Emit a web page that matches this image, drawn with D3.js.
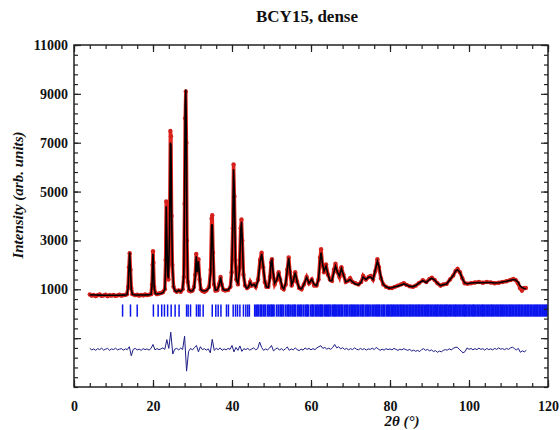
<!DOCTYPE html>
<html>
<head>
<meta charset="utf-8">
<script src="https://cdn.jsdelivr.net/npm/d3@7"></script>
<style>
  body { margin: 0; background: #fff; }
  .axis text { font-family: "Liberation Serif", "Times New Roman", serif; font-weight: bold; font-size: 14px; fill: #111; }
  .axis line { stroke: #222; stroke-width: 1.2; }
  .label { font-family: "Liberation Serif", "Times New Roman", serif; font-weight: bold; fill: #111; }
</style>
</head>
<body>
<div id="chart"></div>
<script>
const twoTheta = [
  4.0, 4.5, 5.0, 5.5, 6.0, 6.5, 7.0, 7.5, 8.0, 8.5, 9.0, 9.5, 10.0, 10.5, 11.0, 11.5, 12.0, 12.5, 13.0, 13.4,
  13.7, 13.9, 14.1, 14.3, 14.5, 14.8, 15.5, 16.0, 16.5, 17.0, 17.5, 18.0, 18.5, 19.0, 19.5,
  19.75, 19.9, 20.0, 20.1, 20.3, 20.6, 21.0, 21.5, 22.0, 22.5, 23.0,
  23.2, 23.35, 23.5, 23.7, 23.9, 24.2, 24.4, 24.55, 24.7, 24.9, 25.2, 25.6, 26.0, 26.5, 27.0, 27.5,
  27.8, 28.0, 28.15, 28.3, 28.45, 28.6, 28.8, 29.1, 29.5, 30.0, 30.4,
  30.7, 30.95, 31.2, 31.5, 31.8, 32.1, 32.5, 33.0, 33.5, 34.2, 34.6, 34.85, 35.0, 35.2, 35.45, 35.8, 36.3, 36.8, 37.1, 37.4, 37.8, 38.3, 39.0, 39.6,
  39.9, 40.2, 40.4, 40.6, 40.85, 41.1, 41.5, 41.9, 42.2, 42.4, 42.6, 42.9, 43.3, 43.8, 44.2, 44.6, 45.0, 45.6, 46.0,
  46.6, 47.1, 47.5, 47.9, 48.3, 48.7, 49.2, 49.6, 49.9, 50.1, 50.4, 50.8, 51.4, 51.8, 52.2, 52.7, 53.1, 53.6,
  54.0, 54.35, 54.7, 55.1, 55.5, 56.0, 56.5, 57.0, 57.6, 58.2, 58.9, 59.5, 60.2, 60.8, 61.4, 61.9,
  62.3, 62.55, 62.9, 63.3, 63.8, 64.3, 64.8, 65.3, 65.8, 66.2, 66.7, 67.2, 67.7, 68.2, 68.8, 69.4,
  69.9, 70.5, 71.2, 72.0, 72.7, 73.2, 73.9, 74.6, 75.1, 75.7, 76.3, 76.8, 77.2, 77.7, 78.3, 79.0,
  79.8, 80.5, 81.2, 82.0, 82.8, 83.5, 84.2, 85.0, 85.8, 86.5, 87.3, 88.3, 89.2, 90.0, 90.6, 91.3, 92.0, 92.8, 93.5, 94.3, 95.2, 96.0, 96.6,
  97.1, 97.7, 98.3, 98.9, 99.6, 100.5, 101.5, 102.5, 103.5, 104.5, 105.5, 106.5, 107.5, 108.5, 109.5, 110.5, 111.2, 111.8, 112.4, 112.9, 113.4, 113.9, 114.4
];
const observed = [
  790, 740, 770, 720, 760, 790, 730, 750, 780, 720, 760, 740, 770, 730, 750, 780, 740, 760, 770, 800,
  1100, 1900, 2480, 1800, 1050, 800, 760, 780, 740, 770, 750, 790, 760, 780, 800,
  1200, 2000, 2560, 2100, 1100, 850, 800, 830, 850, 880, 1000,
  2200, 4600, 3000, 1500, 1400, 3500, 7480, 7260, 4000, 2000, 1100, 950, 900, 950, 900, 1000,
  1500, 4500, 8000, 9100, 7000, 3000, 1300, 950, 920, 950, 1100,
  1600, 2450, 1700, 2230, 1400, 1000, 930, 900, 950, 1100, 1800, 3900, 4030, 2500, 1200, 950, 960, 1250, 1500, 1200, 980, 950, 970, 1100,
  1700, 3500, 6110, 4800, 2200, 1400, 1200, 1900, 3500, 3860, 3000, 1600, 1150, 1050, 1100, 1300, 1150, 1200, 1100,
  1400, 2200, 2500, 1900, 1300, 1100, 1100, 1500, 2100, 2230, 1600, 1200, 1400, 1700, 1400, 1050, 1000, 1200,
  1800, 2300, 1700, 1150, 1350, 1700, 1300, 1050, 1000, 1200, 1500, 1250, 1400, 1150, 1150, 1400,
  2300, 2640, 2000, 1700, 2020, 1600, 1400, 1350, 1800, 2050, 1700, 1500, 1900, 1600, 1300, 1350,
  1450, 1300, 1250, 1200, 1300, 1550, 1400, 1500, 1550, 1400, 1750, 2230, 1900, 1450, 1200, 1100,
  1050, 1050, 1100, 1150, 1200, 1250, 1180, 1120, 1100, 1150, 1250, 1370, 1300, 1420, 1470, 1380, 1250, 1150, 1200, 1220, 1400, 1560, 1750,
  1830, 1700, 1450, 1250, 1230, 1250, 1280, 1300, 1270, 1300, 1280, 1250, 1270, 1300, 1330, 1380, 1420, 1380, 1250, 1050, 950, 1050, 1050
];
const calculated = [
  770, 768, 766, 764, 762, 760, 758, 757, 756, 755, 755, 755, 755, 756, 757, 758, 760, 762, 765, 780,
  1050, 1850, 2500, 1750, 1000, 790, 765, 766, 766, 767, 768, 770, 772, 775, 790,
  1150, 2100, 2450, 2000, 1050, 820, 810, 820, 830, 860, 1000,
  2100, 4400, 3200, 1600, 1450, 3300, 7000, 6900, 4200, 2100, 1100, 930, 900, 960, 910, 1000,
  1600, 5000, 8500, 9180, 7400, 3300, 1400, 1000, 930, 940, 1050,
  1500, 2350, 1700, 2150, 1500, 1000, 940, 930, 950, 1050, 1700, 3600, 3660, 2600, 1250, 970, 980, 1200, 1490, 1200, 990, 960, 980, 1100,
  1600, 3500, 5910, 4900, 2300, 1400, 1250, 1800, 3400, 3760, 3000, 1650, 1150, 1040, 1100, 1280, 1150, 1200, 1100,
  1350, 2100, 2450, 1950, 1350, 1100, 1080, 1450, 2150, 2200, 1700, 1250, 1400, 1680, 1450, 1100, 1020, 1250,
  1800, 2280, 1750, 1200, 1350, 1680, 1300, 1050, 1020, 1200, 1480, 1250, 1400, 1200, 1150, 1400,
  2200, 2500, 2050, 1750, 1950, 1600, 1350, 1350, 1700, 1950, 1700, 1550, 1850, 1600, 1300, 1350,
  1400, 1300, 1220, 1180, 1300, 1500, 1400, 1500, 1500, 1400, 1800, 2150, 1950, 1500, 1200, 1100,
  1050, 1060, 1100, 1130, 1180, 1220, 1180, 1120, 1110, 1150, 1250, 1350, 1280, 1400, 1450, 1380, 1250, 1150, 1190, 1220, 1400, 1560, 1750,
  1800, 1700, 1450, 1260, 1230, 1260, 1270, 1280, 1270, 1280, 1280, 1260, 1270, 1300, 1330, 1370, 1400, 1380, 1300, 1150, 1080, 1030, 1020
];

// difference curve (obs - calc, shifted), one value every 0.5 deg from 4.0 to 114.5
const diffStart = 4.0, diffStep = 0.5;
const difference = [
  -1420, -1480, -1440, -1500, -1430, -1470, -1410, -1490, -1450, -1420, -1500, -1440, -1470, -1410, -1480, -1450, -1430, -1490, -1440, -1470,
  -1350, -1720, -1460, -1420, -1480, -1450, -1500, -1430, -1470, -1440, -1490, -1420, -1260, -1480, -1430, -1470, -1440, -1400, -1460, -1060,
  -1420, -760, -1650, -1450, -1420, -1480, -1410, -1460, -920, -2350, -1550, -1420, -1480, -1380, -1300, -1560, -1350, -1470, -1430, -1490,
  -1440, -1600, -1050, -1500, -1420, -1470, -1400, -1500, -1440, -1480, -1420, -1460, -1300, -1560, -1380, -1500, -1320, -1540, -1430, -1470,
  -1420, -1490, -1440, -1400, -1480, -1430, -1160, -1380, -1500, -1440, -1480, -1410, -1300, -1520, -1450, -1400, -1490, -1430, -1500, -1440,
  -1360, -1500, -1440, -1480, -1400, -1470, -1510, -1450, -1490, -1400, -1460, -1420, -1480, -1430, -1470, -1400, -1350, -1310, -1420, -1380,
  -1450, -1410, -1460, -1380, -1260, -1400, -1350, -1440, -1390, -1460, -1420, -1480, -1430, -1470, -1400, -1450, -1480, -1420, -1470, -1430,
  -1490, -1440, -1460, -1410, -1470, -1380, -1440, -1500, -1450, -1490, -1430, -1470, -1440, -1480, -1420, -1460, -1500, -1450, -1480, -1430,
  -1470, -1500, -1460, -1530, -1490, -1540, -1500, -1550, -1470, -1430, -1500, -1460, -1520, -1480, -1550, -1510, -1580, -1530, -1560, -1500,
  -1470, -1490, -1440, -1480, -1420, -1380, -1370, -1450, -1530, -1600, -1550, -1400, -1460, -1420, -1480, -1430, -1470, -1410, -1460, -1430,
  -1490, -1420, -1470, -1440, -1480, -1420, -1460, -1400, -1450, -1430, -1470, -1420, -1460, -1400, -1370, -1430, -1480, -1420, -1580, -1520,
  -1560, -1500
];

// Bragg reflection positions (2theta)
const braggPositions = [
  12.3, 14.3, 16.0, 20.1, 21.3, 22.2, 22.9, 23.7, 24.6, 25.6, 26.6, 28.5, 28.9, 29.5, 31.0, 31.5, 31.9, 32.7,
  35.0, 35.9, 36.5, 37.2, 38.6, 39.1, 40.3, 40.9, 41.4, 42.0, 42.9, 43.5, 44.0, 44.4, 45.8,
  46.3, 46.7, 47.2, 47.5, 48.0, 48.4, 49.0, 49.4, 49.9, 50.2, 50.6, 51.3, 51.8, 52.3, 52.6, 53.0, 53.6, 54.1,
  54.4, 54.9, 55.4, 55.8, 56.1, 56.7, 57.2, 57.6, 58.1, 58.6, 59.0, 59.3, 59.9, 60.3, 60.6, 61.1, 61.5, 61.9,
  62.3, 62.6, 62.9, 63.4, 63.8, 64.2, 64.5, 64.9, 65.4, 65.8, 66.1, 66.5, 66.9, 67.3, 67.7, 68.0, 68.5, 68.9,
  69.3, 69.8, 70.2, 70.5, 70.9, 71.3, 71.7, 72.1, 72.6, 73.0, 73.3, 73.8, 74.2, 74.6, 75.0, 75.5, 75.9, 76.3,
  76.7, 77.1, 77.4, 77.9, 78.3, 78.6, 79.1, 79.5, 79.9, 80.3, 80.6, 81.0, 81.4, 81.8, 82.2, 82.6, 82.9, 83.3,
  83.7, 84.1, 84.5, 84.9, 85.2, 85.6, 86.0, 86.4, 86.8, 87.2, 87.5, 87.9, 88.3, 88.7, 89.1, 89.5, 89.8, 90.2,
  90.6, 91.0, 91.4, 91.8, 92.1, 92.5, 92.9, 93.3, 93.7, 94.1, 94.4, 94.8, 95.2, 95.6, 96.0, 96.4, 96.7, 97.1,
  97.5, 97.9, 98.3, 98.7, 99.0, 99.4, 99.8, 100.2, 100.6, 101.0, 101.3, 101.7, 102.1, 102.5, 102.9, 103.3,
  103.6, 104.0, 104.4, 104.8, 105.2, 105.6, 105.9, 106.3, 106.7, 107.1, 107.5, 107.9, 108.2, 108.6, 109.0,
  109.4, 109.8, 110.2, 110.5, 110.9, 111.3, 111.7, 112.1, 112.5, 112.8, 113.2, 113.6, 114.0, 114.4, 114.8,
  115.1, 115.5, 115.9, 116.3, 116.7, 117.1, 117.4, 117.8, 118.2, 118.6, 119.0, 119.4, 119.7
];

const xTickLabels = [0, 20, 40, 60, 80, 100, 120];
const yTickLabels = [1000, 3000, 5000, 7000, 9000, 11000];

const pageWidth = 560;
const pageHeight = 430;

const svg = d3.select("#chart")
    .append("svg")
    .attr("width", pageWidth)
    .attr("height", pageHeight);

const x = d3.scaleLinear().domain([0, 120]).range([74, 548]);
const y = d3.scaleLinear().domain([-3000, 11000]).range([387, 45]);

const xMinor = d3.range(0, 121, 4);
const yMinor = d3.range(-3000, 11001, 400);
const yMajor = yTickLabels.concat([-1000]);

// bragg ticks
svg.append("g")
    .selectAll("line")
    .data(braggPositions)
    .enter().append("line")
    .attr("x1", d => x(d))
    .attr("x2", d => x(d))
    .attr("y1", y(380))
    .attr("y2", y(-120))
    .attr("stroke", "#0b16ee")
    .attr("stroke-width", d => d > 45 ? 2 : 1.5);

// difference
const diffLine = d3.line()
    .x((d, i) => x(diffStart + i * diffStep))
    .y(d => y(d));

svg.append("path")
    .datum(difference)
    .attr("d", diffLine)
    .attr("fill", "none")
    .attr("stroke", "#1d1d86")
    .attr("stroke-width", 1);

// observed
const profileLine = values => d3.line()
    .x((d, i) => x(twoTheta[i]))
    .y(d => y(d))(values);

svg.append("path")
    .attr("d", profileLine(observed))
    .attr("fill", "none")
    .attr("stroke", "#e2231c")
    .attr("stroke-width", 3.5);

svg.append("g")
    .selectAll("circle")
    .data(observed)
    .enter().append("circle")
    .attr("cx", (d, i) => x(twoTheta[i]))
    .attr("cy", d => y(d))
    .attr("r", 2.2)
    .attr("fill", "#d4201c");

// calculated
svg.append("path")
    .attr("d", profileLine(calculated))
    .attr("fill", "none")
    .attr("stroke", "#000")
    .attr("stroke-width", 1.6);

// frame
svg.append("rect")
    .attr("x", x(0))
    .attr("y", y(11000))
    .attr("width", x(120) - x(0))
    .attr("height", y(-3000) - y(11000))
    .attr("fill", "none")
    .attr("stroke", "#222")
    .attr("stroke-width", 1.5);

const noDomain = g => g.select(".domain").remove();

svg.append("g").attr("class", "axis")
    .attr("transform", "translate(0," + y(-3000) + ")")
    .call(d3.axisBottom(x).tickValues(xMinor).tickSize(-4).tickFormat(""))
    .call(noDomain);
svg.append("g").attr("class", "axis")
    .attr("transform", "translate(0," + y(-3000) + ")")
    .call(d3.axisBottom(x).tickValues(xTickLabels).tickSize(-7).tickPadding(14).tickFormat(d3.format("d")))
    .call(noDomain);
svg.append("g").attr("class", "axis")
    .attr("transform", "translate(0," + y(11000) + ")")
    .call(d3.axisTop(x).tickValues(xMinor).tickSize(-4).tickFormat(""))
    .call(noDomain);
svg.append("g").attr("class", "axis")
    .attr("transform", "translate(0," + y(11000) + ")")
    .call(d3.axisTop(x).tickValues(xTickLabels).tickSize(-7).tickFormat(""))
    .call(noDomain);

svg.append("g").attr("class", "axis")
    .attr("transform", "translate(" + x(0) + ",0)")
    .call(d3.axisLeft(y).tickValues(yMinor).tickSize(-4).tickFormat(""))
    .call(noDomain);
svg.append("g").attr("class", "axis")
    .attr("transform", "translate(" + x(0) + ",0)")
    .call(d3.axisLeft(y).tickValues(yMajor).tickSize(-7).tickPadding(6)
        .tickFormat(d => yTickLabels.includes(d) ? d : ""))
    .call(noDomain);
svg.append("g").attr("class", "axis")
    .attr("transform", "translate(" + x(120) + ",0)")
    .call(d3.axisRight(y).tickValues(yMinor).tickSize(-4).tickFormat(""))
    .call(noDomain);
svg.append("g").attr("class", "axis")
    .attr("transform", "translate(" + x(120) + ",0)")
    .call(d3.axisRight(y).tickValues(yMajor).tickSize(-7).tickFormat(""))
    .call(noDomain);

// title and labels
svg.append("text")
    .attr("class", "label")
    .attr("x", 307)
    .attr("y", 22)
    .attr("text-anchor", "middle")
    .style("font-size", "17px")
    .text("BCY15, dense");

svg.append("text")
    .attr("class", "label")
    .attr("transform", "translate(23,195) rotate(-90)")
    .attr("text-anchor", "middle")
    .style("font-size", "15px")
    .style("font-style", "italic")
    .text("Intensity (arb. units)");

svg.append("text")
    .attr("class", "label")
    .attr("x", 402)
    .attr("y", 426)
    .attr("text-anchor", "middle")
    .style("font-size", "15px")
    .style("font-style", "italic")
    .text("2θ (°)");
</script>
</body>
</html>
